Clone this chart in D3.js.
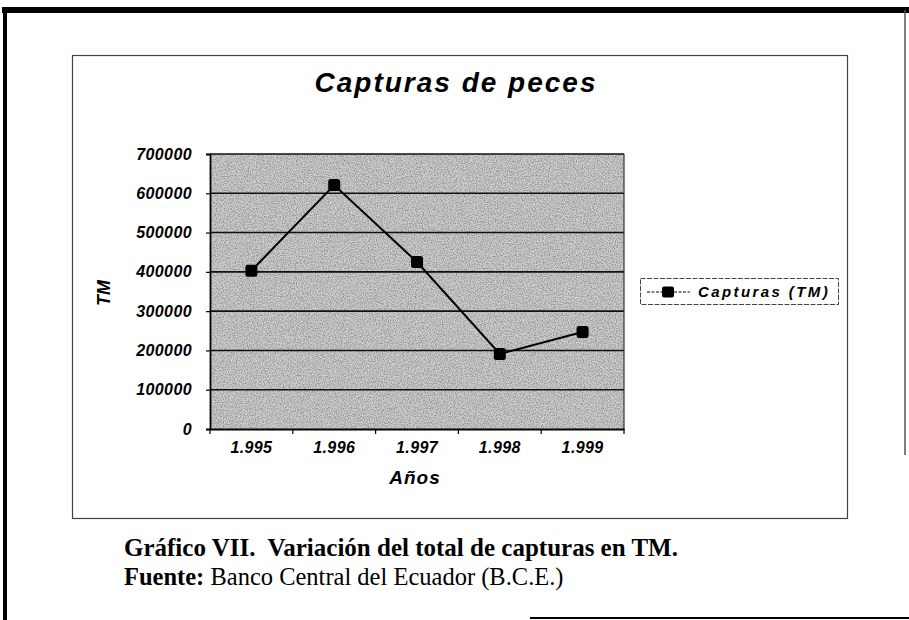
<!DOCTYPE html>
<html>
<head>
<meta charset="utf-8">
<script src="https://cdn.jsdelivr.net/npm/d3@7"></script>
<style>
  html, body { margin: 0; padding: 0; background: #fff; }
  svg { display: block; }
  .sans { font-family: Arial, "Liberation Sans", sans-serif; font-weight: bold; font-style: italic; }
  .serif { font-family: "Times New Roman", "Liberation Serif", serif; white-space: pre; }
</style>
</head>
<body>
<svg id="chart" width="909" height="620"></svg>
<script>
// Chart data
var years = ['1.995', '1.996', '1.997', '1.998', '1.999'];
var capturas = [403000, 621000, 425000, 191000, 247000];
var yTicks = [0, 100000, 200000, 300000, 400000, 500000, 600000, 700000];

var title = 'Capturas de peces';
var xTitle = 'Años';
var yTitle = 'TM';
var seriesName = 'Capturas (TM)';
var captionBold = 'Gráfico VII.\u00a0 Variación del total de capturas en TM.';
var sourceBold = 'Fuente:';
var sourceText = ' Banco Central del Ecuador (B.C.E.)';

var svg, defs, plot, x, y, line, legend, src, noise;

svg = d3.select('#chart');
defs = svg.append('defs');

// Grain to mimic the halftone fill of the printed plot area
noise = defs.append('filter')
  .attr('id', 'grain')
  .attr('x', 0).attr('y', 0).attr('width', 1).attr('height', 1);
noise.append('feTurbulence')
  .attr('type', 'fractalNoise')
  .attr('baseFrequency', 0.85)
  .attr('numOctaves', 2)
  .attr('seed', 3);
noise.append('feColorMatrix')
  .attr('type', 'matrix')
  .attr('values', '0 0 0 0 0  0 0 0 0 0  0 0 0 0 0  0 0 0 -1.4 0.9');

// Page frame of the scan
svg.append('line')
  .attr('x1', 2).attr('x2', 909).attr('y1', 10).attr('y2', 10)
  .attr('stroke', '#000').attr('stroke-width', 6);
svg.append('line')
  .attr('x1', 5).attr('x2', 5).attr('y1', 7).attr('y2', 620)
  .attr('stroke', '#000').attr('stroke-width', 4);
svg.append('line')
  .attr('x1', 905).attr('x2', 905).attr('y1', 10).attr('y2', 455)
  .attr('stroke', '#555').attr('stroke-width', 1.5);
svg.append('line')
  .attr('x1', 530).attr('x2', 909).attr('y1', 618).attr('y2', 618)
  .attr('stroke', '#000').attr('stroke-width', 2);

// Chart area border
svg.append('rect')
  .attr('x', 72.5).attr('y', 55.5)
  .attr('width', 775).attr('height', 463)
  .attr('fill', 'none')
  .attr('stroke', '#444')
  .attr('stroke-width', 1.2);

svg.append('text')
  .attr('class', 'sans')
  .attr('x', 456).attr('y', 92)
  .attr('text-anchor', 'middle')
  .style('font-size', '28px')
  .style('letter-spacing', '2px')
  .text(title);

// Scales
x = d3.scaleBand().domain(years).range([210, 624]).padding(0);
y = d3.scaleLinear().domain([0, 700000]).range([429, 154]);

plot = svg.append('g').attr('class', 'plot');

plot.append('rect')
  .attr('x', x.range()[0]).attr('y', y(700000))
  .attr('width', x.range()[1] - x.range()[0])
  .attr('height', y(0) - y(700000))
  .attr('fill', '#d0d0d0');
plot.append('rect')
  .attr('x', x.range()[0]).attr('y', y(700000))
  .attr('width', x.range()[1] - x.range()[0])
  .attr('height', y(0) - y(700000))
  .attr('fill', '#000')
  .attr('filter', 'url(#grain)')
  .attr('opacity', 0.5);

// Gridlines
plot.append('g')
  .selectAll('line')
  .data(yTicks.slice(1))
  .enter()
  .append('line')
  .attr('x1', x.range()[0]).attr('x2', x.range()[1])
  .attr('y1', function (d) { return y(d); })
  .attr('y2', function (d) { return y(d); })
  .attr('stroke', '#111')
  .attr('stroke-width', 1.6);

plot.append('line')
  .attr('x1', x.range()[1]).attr('x2', x.range()[1])
  .attr('y1', y(700000)).attr('y2', y(0))
  .attr('stroke', '#333').attr('stroke-width', 1.2);

// Y axis
var yAxis = plot.append('g')
  .attr('transform', 'translate(' + x.range()[0] + ',0)')
  .call(d3.axisLeft(y).tickValues(yTicks).tickSize(4).tickPadding(14)
    .tickFormat(d3.format('d')));
yAxis.select('.domain').attr('stroke', '#000').attr('stroke-width', 1.8);
yAxis.selectAll('.tick line').attr('stroke', '#000').attr('stroke-width', 1.2);
yAxis.selectAll('.tick text')
  .attr('class', 'sans')
  .attr('fill', '#000')
  .style('font-size', '16px')
  .style('letter-spacing', '0.4px');

// X axis, ticks sit between categories
var xAxis = plot.append('g')
  .attr('transform', 'translate(0,' + y(0) + ')')
  .call(d3.axisBottom(x).tickSize(0).tickPadding(13));
xAxis.select('.domain').attr('stroke', '#000').attr('stroke-width', 1.8);
xAxis.selectAll('.tick text')
  .attr('class', 'sans')
  .attr('fill', '#000')
  .style('font-size', '16px')
  .style('letter-spacing', '0.4px');
xAxis.selectAll('.sep')
  .data(years)
  .enter()
  .append('line')
  .attr('class', 'sep')
  .attr('x1', function (d) { return x(d); })
  .attr('x2', function (d) { return x(d); })
  .attr('y1', 0).attr('y2', 5)
  .attr('stroke', '#000').attr('stroke-width', 1.2);
xAxis.append('line')
  .attr('x1', x.range()[1]).attr('x2', x.range()[1])
  .attr('y1', 0).attr('y2', 5)
  .attr('stroke', '#000').attr('stroke-width', 1.2);

// Axis titles
svg.append('text')
  .attr('class', 'sans')
  .attr('x', 415).attr('y', 484)
  .attr('text-anchor', 'middle')
  .style('font-size', '19px')
  .style('letter-spacing', '1px')
  .text(xTitle);

svg.append('text')
  .attr('class', 'sans')
  .attr('transform', 'translate(110,293) rotate(-90)')
  .attr('text-anchor', 'middle')
  .style('font-size', '18px')
  .text(yTitle);

// Series line and markers
line = d3.line()
  .x(function (d, i) { return x(years[i]) + x.bandwidth() / 2; })
  .y(function (d) { return y(d); });

plot.append('path')
  .datum(capturas)
  .attr('d', line)
  .attr('fill', 'none')
  .attr('stroke', '#000')
  .attr('stroke-width', 2);

plot.selectAll('.marker')
  .data(capturas)
  .enter()
  .append('rect')
  .attr('class', 'marker')
  .attr('x', function (d, i) { return x(years[i]) + x.bandwidth() / 2 - 6; })
  .attr('y', function (d) { return y(d) - 6; })
  .attr('width', 12).attr('height', 12)
  .attr('rx', 2.5)
  .attr('fill', '#000');

// Legend
legend = svg.append('g').attr('class', 'legend');
legend.append('rect')
  .attr('x', 640.5).attr('y', 278.5)
  .attr('width', 198).attr('height', 26)
  .attr('fill', '#fff')
  .attr('stroke', '#444')
  .attr('stroke-width', 1)
  .attr('stroke-dasharray', '5,1.5');
legend.append('line')
  .attr('x1', 647).attr('x2', 690).attr('y1', 292).attr('y2', 292)
  .attr('stroke', '#000').attr('stroke-width', 1)
  .attr('stroke-dasharray', '3,1.5');
legend.append('rect')
  .attr('x', 662).attr('y', 286.5)
  .attr('width', 12).attr('height', 11)
  .attr('rx', 2)
  .attr('fill', '#000');
legend.append('text')
  .attr('class', 'sans')
  .attr('x', 698).attr('y', 297)
  .style('font-size', '15px')
  .style('letter-spacing', '2.4px')
  .text(seriesName);

// Figure caption below the chart
svg.append('text')
  .attr('class', 'serif')
  .attr('x', 124).attr('y', 556)
  .style('font-size', '25px')
  .style('font-weight', 'bold')
  .text(captionBold);

src = svg.append('text')
  .attr('class', 'serif')
  .attr('x', 124).attr('y', 585)
  .style('font-size', '24.5px');
src.append('tspan').style('font-weight', 'bold').text(sourceBold);
src.append('tspan').text(sourceText);
</script>
</body>
</html>
